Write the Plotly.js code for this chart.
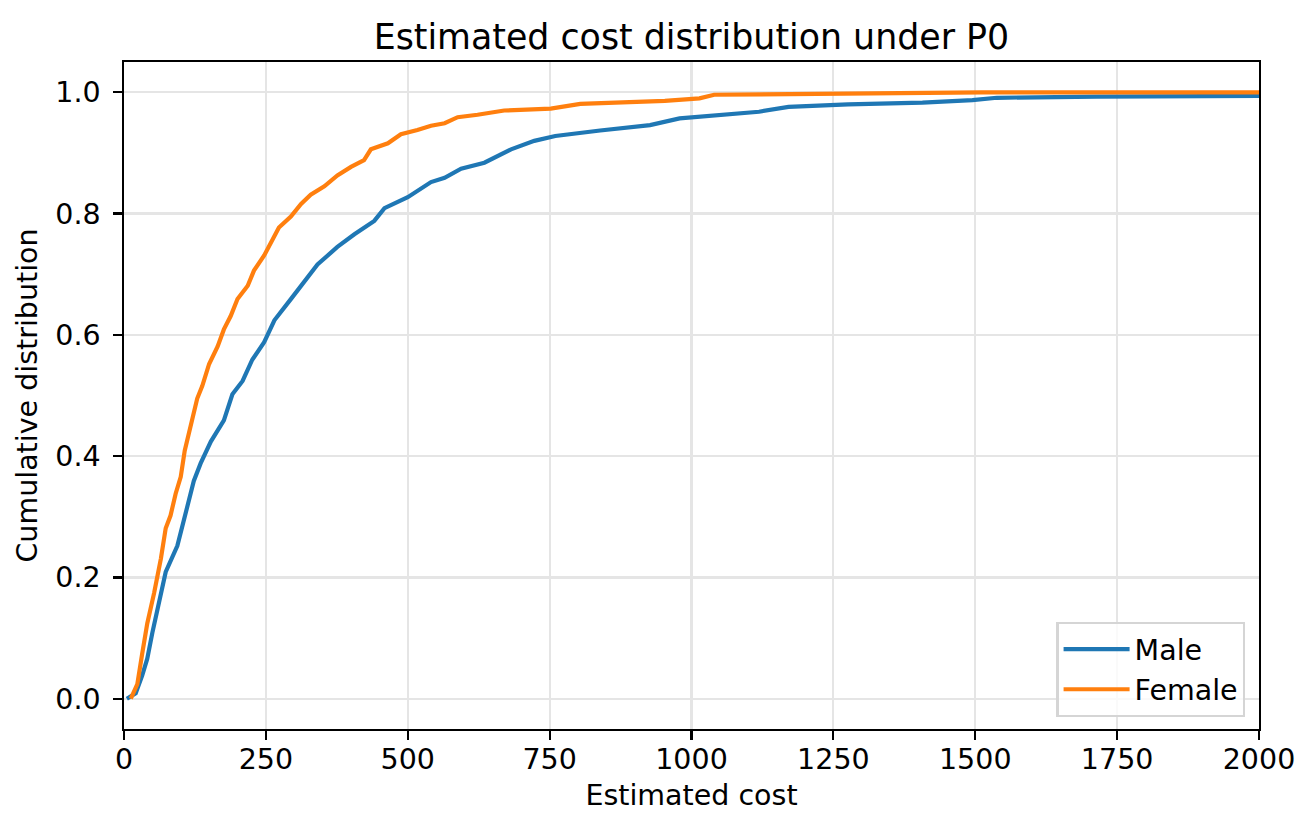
<!DOCTYPE html>
<html>
<head>
<meta charset="utf-8">
<script src="https://cdn.plot.ly/plotly-3.0.1.min.js"></script>
<style>
  html, body { margin: 0; padding: 0; background: #fff; }
  #chart { width: 1316px; height: 834px; }
</style>
</head>
<body>
<div id="chart"></div>
<script>
// ECDF of estimated cost
const maleCost = [5, 20.6, 32, 41, 50, 62, 73.5, 94, 109, 123, 135, 153, 176, 191, 209, 226, 247, 265, 294, 318, 341, 376, 406, 441, 459, 500, 541, 565, 594, 635, 682, 723, 760, 839, 927, 979, 1058, 1119, 1171, 1276, 1407, 1495, 1538, 1713, 2000];
const maleCdf = [0, 0.009, 0.038, 0.066, 0.109, 0.159, 0.209, 0.252, 0.309, 0.359, 0.388, 0.424, 0.459, 0.502, 0.524, 0.559, 0.588, 0.624, 0.659, 0.688, 0.716, 0.745, 0.766, 0.788, 0.809, 0.827, 0.852, 0.859, 0.874, 0.884, 0.906, 0.920, 0.928, 0.937, 0.946, 0.957, 0.964, 0.968, 0.976, 0.980, 0.983, 0.987, 0.991, 0.993, 0.994];

const femaleCost = [12, 23.5, 32, 41, 53, 65, 73.5, 82, 91, 100, 107, 118, 129, 138, 150, 165, 176, 188, 200, 218, 229, 247, 259, 273, 294, 312, 329, 353, 376, 400, 423, 435, 465, 488, 517, 541, 565, 588, 623, 670, 752, 804, 953, 1014, 1040, 1215, 1512, 2000];
const femaleCdf = [0, 0.024, 0.074, 0.124, 0.174, 0.231, 0.281, 0.302, 0.338, 0.366, 0.409, 0.452, 0.495, 0.516, 0.552, 0.581, 0.609, 0.631, 0.659, 0.681, 0.706, 0.731, 0.752, 0.777, 0.795, 0.816, 0.831, 0.845, 0.863, 0.877, 0.888, 0.906, 0.916, 0.931, 0.938, 0.945, 0.949, 0.959, 0.963, 0.970, 0.973, 0.981, 0.986, 0.990, 0.996, 0.998, 1.0, 1.0];

const xTicks = [0, 250, 500, 750, 1000, 1250, 1500, 1750, 2000];
const xTickLabels = ["0", "250", "500", "750", "1000", "1250", "1500", "1750", "2000"];
const yTicks = [0, 0.2, 0.4, 0.6, 0.8, 1.0];
const yTickLabels = ["0.0", "0.2", "0.4", "0.6", "0.8", "1.0"];

const font = "DejaVu Sans, sans-serif";
const labelSize = 28.5;

const traces = [
  {
    x: maleCost, y: maleCdf,
    type: "scatter", mode: "lines", name: "Male",
    line: { color: "#1f77b4", width: 4.2 },
  },
  {
    x: femaleCost, y: femaleCdf,
    type: "scatter", mode: "lines", name: "Female",
    line: { color: "#ff7f0e", width: 4.2 },
  },
];

const axisCommon = {
  showline: true, mirror: true, linecolor: "#000", linewidth: 2.2,
  ticks: "outside", ticklen: 8.5, tickwidth: 2.2, tickcolor: "#000",
  showgrid: true, gridcolor: "#e5e5e5", gridwidth: 2.2,
  zeroline: false,
  tickfont: { family: font, size: labelSize, color: "#000" },
};

const layout = {
  width: 1316, height: 834,
  margin: { l: 124, r: 57, t: 62, b: 105 },
  paper_bgcolor: "#fff", plot_bgcolor: "#fff",
  font: { family: font, color: "#000" },
  title: {
    text: "Estimated cost distribution under P0",
    font: { family: font, size: 34.8, color: "#000" },
    x: 0.5254, xanchor: "center", y: 0.956, yanchor: "middle",
  },
  xaxis: Object.assign({}, axisCommon, {
    range: [0, 2000],
    ticklabelstandoff: -5,
    tickmode: "array", tickvals: xTicks, ticktext: xTickLabels,
    title: { text: "Estimated cost", font: { family: font, size: labelSize, color: "#000" }, standoff: 10 },
  }),
  yaxis: Object.assign({}, axisCommon, {
    range: [-0.05, 1.05],
    ticklabelstandoff: 7,
    tickmode: "array", tickvals: yTicks, ticktext: yTickLabels,
    title: { text: "Cumulative distribution", font: { family: font, size: labelSize, color: "#000" }, standoff: 9 },
  }),
  showlegend: true,
  legend: {
    x: 0.988, y: 0.018, xanchor: "right", yanchor: "bottom",
    bgcolor: "rgba(255,255,255,0.8)", bordercolor: "#d5d5d5", borderwidth: 2.2,
    font: { family: font, size: labelSize, color: "#000" },
    itemwidth: 66,
    tracegroupgap: 0,
  },
};

Plotly.newPlot("chart", traces, layout, { displayModeBar: false, staticPlot: true });
</script>
</body>
</html>
